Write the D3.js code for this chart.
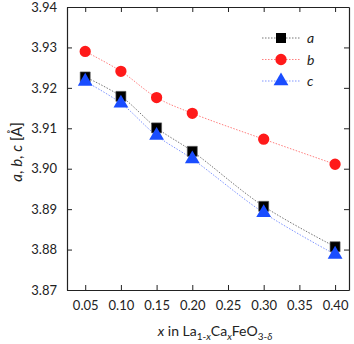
<!DOCTYPE html>
<html>
<head>
<meta charset="utf-8">
<script src="https://cdn.jsdelivr.net/npm/d3@7"></script>
<style>
  body { margin: 0; background: #fff; }
  text { font-family: Lato, "Open Sans", sans-serif; fill: #222; }
</style>
</head>
<body>
<div class="chart"></div>
<script>
// data
var xValues = [0.05, 0.10, 0.15, 0.20, 0.30, 0.40];
var aValues = [3.9227, 3.9179, 3.9101, 3.9043, 3.8907, 3.8807];
var bValues = [3.9290, 3.9241, 3.9176, 3.9137, 3.9073, 3.9011];
var cValues = [3.9216, 3.9162, 3.9082, 3.9024, 3.8891, 3.8788];
var xTicks = [0.05, 0.10, 0.15, 0.20, 0.25, 0.30, 0.35, 0.40];
var yTicks = [3.87, 3.88, 3.89, 3.90, 3.91, 3.92, 3.93, 3.94];

var svgWidth = 354;
var svgHeight = 344;
var margin = {top: 7, right: 5, bottom: 54, left: 67};
var width = svgWidth - margin.left - margin.right;
var height = svgHeight - margin.top - margin.bottom;

var svg = d3.select(".chart")
    .append("svg")
    .attr("width", svgWidth)
    .attr("height", svgHeight);

var chart = svg.append("g")
    .attr("transform", "translate(" + margin.left + "," + margin.top + ")");

var xScale = d3.scaleLinear().domain([0.0245, 0.4195]).range([0, width]);
var yScale = d3.scaleLinear().domain([3.87, 3.94]).range([height, 0]);

// axes with inward ticks on all four sides
function styleAxis(g) {
    g.selectAll("path").attr("stroke", "#222").attr("stroke-width", 1.2);
    g.selectAll("line").attr("stroke", "#222").attr("stroke-width", 1);
    g.selectAll("text").style("font-size", "13px").attr("fill", "#222");
}

chart.append("g")
    .attr("transform", "translate(0," + height + ")")
    .call(d3.axisBottom(xScale).tickValues(xTicks).tickFormat(d3.format(".2f"))
        .tickSizeInner(-5).tickSizeOuter(0).tickPadding(11))
    .call(styleAxis);

chart.append("g")
    .call(d3.axisTop(xScale).tickValues(xTicks).tickFormat("")
        .tickSizeInner(-5).tickSizeOuter(0))
    .call(styleAxis);

chart.append("g")
    .call(d3.axisLeft(yScale).tickValues(yTicks).tickFormat(d3.format(".2f"))
        .tickSizeInner(-5).tickSizeOuter(0).tickPadding(10))
    .call(styleAxis);

chart.append("g")
    .attr("transform", "translate(" + width + ",0)")
    .call(d3.axisRight(yScale).tickValues(yTicks).tickFormat("")
        .tickSizeInner(-5).tickSizeOuter(0))
    .call(styleAxis);

// series
var series = [
    {name: "a", values: aValues, color: "#000000", lineColor: "#777777", symbol: d3.symbolSquare, size: 100},
    {name: "b", values: bValues, color: "#ff1a1a", lineColor: "#ff8080", symbol: d3.symbolCircle, size: 100},
    {name: "c", values: cValues, color: "#1a4dff", lineColor: "#8096ff", symbol: d3.symbolTriangle, size: 95}
];

var line = d3.line()
    .x(function(d, i) { return xScale(xValues[i]); })
    .y(function(d) { return yScale(d); })
    .curve(d3.curveCatmullRom);

series.forEach(function(s) {
    chart.append("path")
        .datum(s.values)
        .attr("d", line)
        .attr("fill", "none")
        .attr("stroke", s.lineColor)
        .attr("stroke-width", 1)
        .attr("stroke-dasharray", "1.5,1.5");
});

series.forEach(function(s) {
    chart.selectAll(".pt-" + s.name)
        .data(s.values)
        .enter()
        .append("path")
        .attr("class", "pt-" + s.name)
        .attr("d", d3.symbol().type(s.symbol).size(s.size))
        .attr("transform", function(d, i) {
            return "translate(" + xScale(xValues[i]) + "," + yScale(d) + ")";
        })
        .attr("fill", s.color)
        .attr("stroke", s.name == "a" ? "#555" : "none")
        .attr("stroke-width", 0.6);
});

// legend
var legend = chart.append("g").attr("transform", "translate(195,31)");
series.forEach(function(s, i) {
    var row = legend.append("g").attr("transform", "translate(0," + (i * 21.5) + ")");
    row.append("line")
        .attr("x1", 0).attr("x2", 38).attr("y1", 0).attr("y2", 0)
        .attr("stroke", s.lineColor)
        .attr("stroke-width", 1)
        .attr("stroke-dasharray", "1.5,1.5");
    row.append("path")
        .attr("d", d3.symbol().type(s.symbol).size(s.size))
        .attr("transform", "translate(19,0)")
        .attr("fill", s.color);
    row.append("text")
        .attr("x", 45)
        .attr("y", 5)
        .style("font-size", "14px")
        .style("font-style", "italic")
        .text(s.name);
});

// y-axis label
var yLabel = svg.append("text")
    .attr("transform", "translate(22,152) rotate(-90)")
    .attr("text-anchor", "middle")
    .style("font-size", "15px");
yLabel.append("tspan").style("font-style", "italic").text("a");
yLabel.append("tspan").text(", ");
yLabel.append("tspan").style("font-style", "italic").text("b");
yLabel.append("tspan").text(", ");
yLabel.append("tspan").style("font-style", "italic").text("c");
yLabel.append("tspan").text(" [Å]");

// x-axis label
var xLabel = svg.append("text")
    .attr("x", margin.left + width / 2 + 7)
    .attr("y", 336)
    .attr("text-anchor", "middle")
    .style("font-size", "14px");
xLabel.append("tspan").style("font-style", "italic").text("x");
xLabel.append("tspan").text(" in La");
xLabel.append("tspan").attr("dy", 4).style("font-size", "10px").text("1-");
xLabel.append("tspan").style("font-size", "10px").style("font-style", "italic").text("x");
xLabel.append("tspan").attr("dy", -4).text("Ca");
xLabel.append("tspan").attr("dy", 4).style("font-size", "10px").style("font-style", "italic").text("x");
xLabel.append("tspan").attr("dy", -4).text("FeO");
xLabel.append("tspan").attr("dy", 4).style("font-size", "10px").text("3-");
xLabel.append("tspan").style("font-size", "10px").style("font-style", "italic").text("δ");
</script>
</body>
</html>
